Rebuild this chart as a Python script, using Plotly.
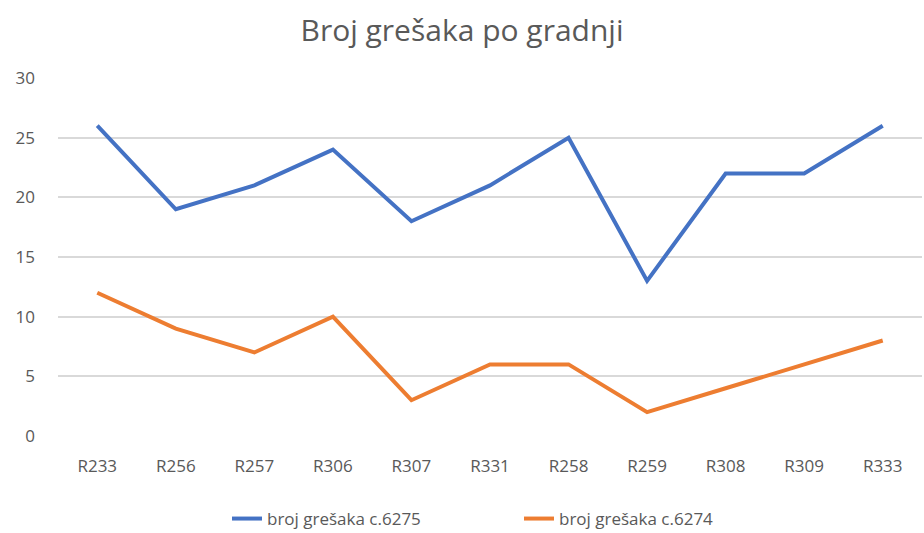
import plotly.graph_objects as go

categories = ["R233", "R256", "R257", "R306", "R307", "R331", "R258", "R259", "R308", "R309", "R333"]
series_6275 = [26, 19, 21, 24, 18, 21, 25, 13, 22, 22, 26]
series_6274 = [12, 9, 7, 10, 3, 6, 6, 2, 4, 6, 8]
y_ticks = [0, 5, 10, 15, 20, 25, 30]

text_color = "#595959"
font_family = "Open Sans, Noto Sans, sans-serif"

fig = go.Figure()
fig.add_trace(go.Scatter(x=categories, y=series_6275, mode="lines",
                         name="broj grešaka c.6275",
                         line=dict(color="#4472C4", width=4)))
fig.add_trace(go.Scatter(x=categories, y=series_6274, mode="lines",
                         name="broj grešaka c.6274",
                         line=dict(color="#ED7D31", width=4)))

fig.update_layout(
    width=924, height=533,
    margin=dict(l=58, r=2, t=78, b=97, autoexpand=False),
    paper_bgcolor="white", plot_bgcolor="white",
    font=dict(family=font_family, color=text_color, size=16),
    title=dict(text="Broj grešaka po gradnji", x=0.5, xanchor="center",
               y=1 - 30 / 533, yanchor="middle",
               font=dict(size=30, color=text_color, family=font_family)),
    showlegend=True,
    legend=dict(orientation="h", xref="container", x=227 / 924, xanchor="left",
                yref="container", y=1 - 519 / 533, yanchor="middle",
                font=dict(size=17, color=text_color),
                entrywidth=247, entrywidthmode="pixels",
                traceorder="normal"),
    xaxis=dict(type="category", range=[-0.5, len(categories) - 0.5],
               showgrid=False, showline=False, zeroline=False,
               ticks="", ticklabelstandoff=18,
               tickfont=dict(size=17, color=text_color)),
    yaxis=dict(range=[0, 30], tickvals=y_ticks, showgrid=True, gridcolor="#D9D9D9",
               gridwidth=1.5, zeroline=False, showline=False, ticks="",
               ticklabelstandoff=22, tickfont=dict(size=17, color=text_color)),
)

fig.write_html("out.html")
